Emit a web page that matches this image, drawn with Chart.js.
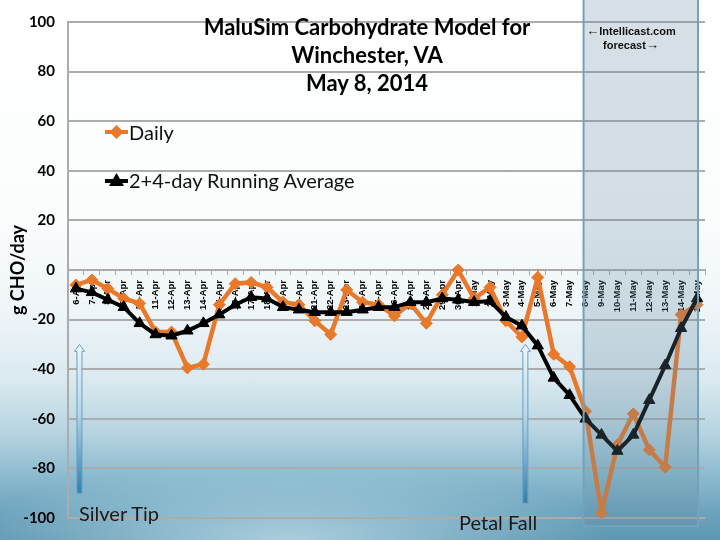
<!DOCTYPE html>
<html><head><meta charset="utf-8">
<script src="https://cdn.jsdelivr.net/npm/chart.js@4.4.1/dist/chart.umd.min.js"></script>
<style>
html,body{margin:0;padding:0;}
body{width:720px;height:540px;overflow:hidden;position:relative;
background:
 radial-gradient(ellipse 45% 14% at 40% 100%, rgba(190,220,232,0.8) 0%, rgba(190,220,232,0) 100%),
 linear-gradient(180deg,#ffffff 0%,#fbfdfd 40%,#eef5f8 58%,#dbeaf0 70%,#b7d4e0 80%,#8cbbcf 88%,#6ba3bc 95%,#5d97b1 100%);}
#wrap{position:absolute;left:0;top:0;width:720px;height:540px;}
.txt{position:absolute;white-space:nowrap;color:#000;}
#title{left:0;width:734px;top:13px;text-align:center;font:bold 22px/28px Lato, "Open Sans", sans-serif;}
#fc{left:573px;width:116px;top:24px;text-align:center;font:bold 11px/14px "Liberation Sans Narrow","Liberation Sans",sans-serif;color:#111;}
#fc span{font-size:13px;}
.leg{left:105px;height:26px;display:flex;align-items:center;font:400 20px Lato, "Open Sans", sans-serif;color:#111;}
.leg svg{margin-right:1px;}
.ann{font:400 20px/24px Lato, "Open Sans", sans-serif;color:#1a1a1a;}
</style></head><body>
<div id="wrap"><canvas id="c"></canvas></div>
<div id="title" class="txt">MaluSim Carbohydrate Model for<br>Winchester, VA<br>May 8, 2014</div>
<div id="fc" class="txt"><span>&larr;</span>Intellicast.com<br>forecast<span>&rarr;</span></div>
<div class="txt leg" style="top:119px"><svg width="23" height="16"><line x1="0" y1="8" x2="23" y2="8" stroke="#E8782A" stroke-width="4"/><rect x="6.5" y="3" width="10" height="10" fill="#E8782A" transform="rotate(45 11.5 8)"/></svg>Daily</div>
<div class="txt leg" style="top:167px"><svg width="23" height="16"><line x1="0" y1="9" x2="23" y2="9" stroke="#000" stroke-width="4"/><polygon points="11.5,1 19,14 4,14" fill="#000"/></svg>2+4-day Running Average</div>
<div class="txt ann" style="left:79px;top:501px">Silver Tip</div>
<div class="txt ann" style="left:459px;top:510px">Petal Fall</div>
<script>
const dates = ['6-Apr','7-Apr','8-Apr','9-Apr','10-Apr','11-Apr','12-Apr','13-Apr','14-Apr','15-Apr',
 '16-Apr','17-Apr','18-Apr','19-Apr','20-Apr','21-Apr','22-Apr','23-Apr','24-Apr','25-Apr',
 '26-Apr','27-Apr','28-Apr','29-Apr','30-Apr','1-May','2-May','3-May','4-May','5-May',
 '6-May','7-May','8-May','9-May','10-May','11-May','12-May','13-May','14-May','15-May'];
const daily = [-6,-4,-7.5,-11.5,-13.5,-25,-25,-39.5,-38,-14,
 -5.5,-5,-7,-13,-14,-20.5,-26,-8,-13,-14,
 -18.5,-13.5,-21.5,-10,0,-11.5,-7,-20.5,-27,-3,
 -34,-39,-57,-98,-70.5,-58,-72.5,-79.5,-18,-14];
const runningAvg = [-7.5,-9,-12,-15,-21.5,-26,-26.5,-24.5,-21.5,-18,
 -14,-11,-11.5,-15,-16,-17,-17,-17,-16,-15,
 -15,-13,-13,-11.5,-12,-13,-12.5,-19,-22.5,-30.5,
 -43.5,-50.5,-60,-66.5,-73,-66.5,-52.5,-38.5,-23.5,-11.5];
const yTicks = [-100,-80,-60,-40,-20,0,20,40,60,80,100];
const forecastFrom = '8-May', forecastTo = '15-May';
const markers = [{date:'6-Apr', from:-30, to:-90}, {date:'4-May', from:-30, to:-94}];

const overlay = {
  id:'overlay',
  beforeDatasetsDraw(chart){
    const {ctx, scales:{x,y}} = chart;
    markers.forEach(m=>{
      const px = x.getPixelForValue(dates.indexOf(m.date)) + 3.5;
      const top = y.getPixelForValue(m.from), bot = y.getPixelForValue(m.to);
      const g = ctx.createLinearGradient(0, top, 0, bot);
      g.addColorStop(0,'#eef6fb'); g.addColorStop(0.45,'#b9d6e8'); g.addColorStop(1,'#2f7fab');
      ctx.save();
      ctx.beginPath();
      ctx.moveTo(px, top);
      ctx.lineTo(px+5, top+7);
      ctx.lineTo(px+2.5, top+7);
      ctx.lineTo(px+2.5, bot);
      ctx.lineTo(px-2.5, bot);
      ctx.lineTo(px-2.5, top+7);
      ctx.lineTo(px-5, top+7);
      ctx.closePath();
      ctx.fillStyle = g; ctx.fill();
      ctx.strokeStyle = '#6b9fc0'; ctx.lineWidth = 1; ctx.stroke();
      ctx.restore();
    });
  },
  afterDatasetsDraw(chart){
    const {ctx, scales:{x,y}, chartArea} = chart;
    const l = x.getPixelForValue(dates.indexOf(forecastFrom)) - 2;
    const r = x.getPixelForValue(dates.indexOf(forecastTo)) + 1;
    const b = chartArea.bottom + 8;
    ctx.save();
    ctx.fillStyle = 'rgba(95,135,160,0.26)';
    ctx.fillRect(l, -3, r-l, b+3);
    ctx.strokeStyle = '#74a2bd'; ctx.lineWidth = 2;
    ctx.strokeRect(l, -3, r-l, b+3);
    ctx.restore();
  }
};

new Chart(document.getElementById('c'), {
  type:'line',
  data:{
    labels: dates,
    datasets:[
      {label:'2+4-day Running Average', data: runningAvg, order:0,
       borderColor:'#000', backgroundColor:'#000', borderWidth:4,
       pointStyle:'triangle', pointRadius:6.5, pointHoverRadius:6.5, pointBorderWidth:1, tension:0},
      {label:'Daily', data: daily, order:1,
       borderColor:'#E8782A', backgroundColor:'#E8782A', borderWidth:4.5,
       pointStyle:'rectRot', pointRadius:6, pointHoverRadius:6, pointBorderWidth:1, tension:0}
    ]
  },
  options:{
    responsive:true, maintainAspectRatio:false, animation:false,
    layout:{padding:{top:15, right:15, bottom:17, left:0}},
    plugins:{legend:{display:false}, tooltip:{enabled:false}},
    scales:{
      x:{
        position:{y:0},
        offset:true,
        grid:{display:true, drawOnChartArea:false, drawTicks:true, tickLength:4, offset:true, color:'#a9a9a9'},
        border:{display:true, color:'#acacac', width:2},
        ticks:{autoSkip:false, minRotation:90, maxRotation:90, padding:6, color:'#000',
               font:{family:'"Liberation Sans", Arial, sans-serif', weight:'bold', size:9.5}}
      },
      y:{
        min:-100, max:100,
        afterFit(s){ s.width = 68; },
        afterBuildTicks(s){ s.ticks = yTicks.map(v=>({value:v})); },
        grid:{color:'#acacac', lineWidth:2, drawTicks:false},
        border:{display:true, color:'#acacac', width:2},
        ticks:{padding:13, color:'#000', font:{family:'Lato, "Open Sans", sans-serif', weight:'bold', size:15}},
        title:{display:true, text:'g CHO/day', color:'#000', padding:{top:7,bottom:0},
               font:{family:'Lato, "Open Sans", sans-serif', weight:'bold', size:18}}
      }
    }
  },
  plugins:[overlay]
});
</script>
</body></html>
